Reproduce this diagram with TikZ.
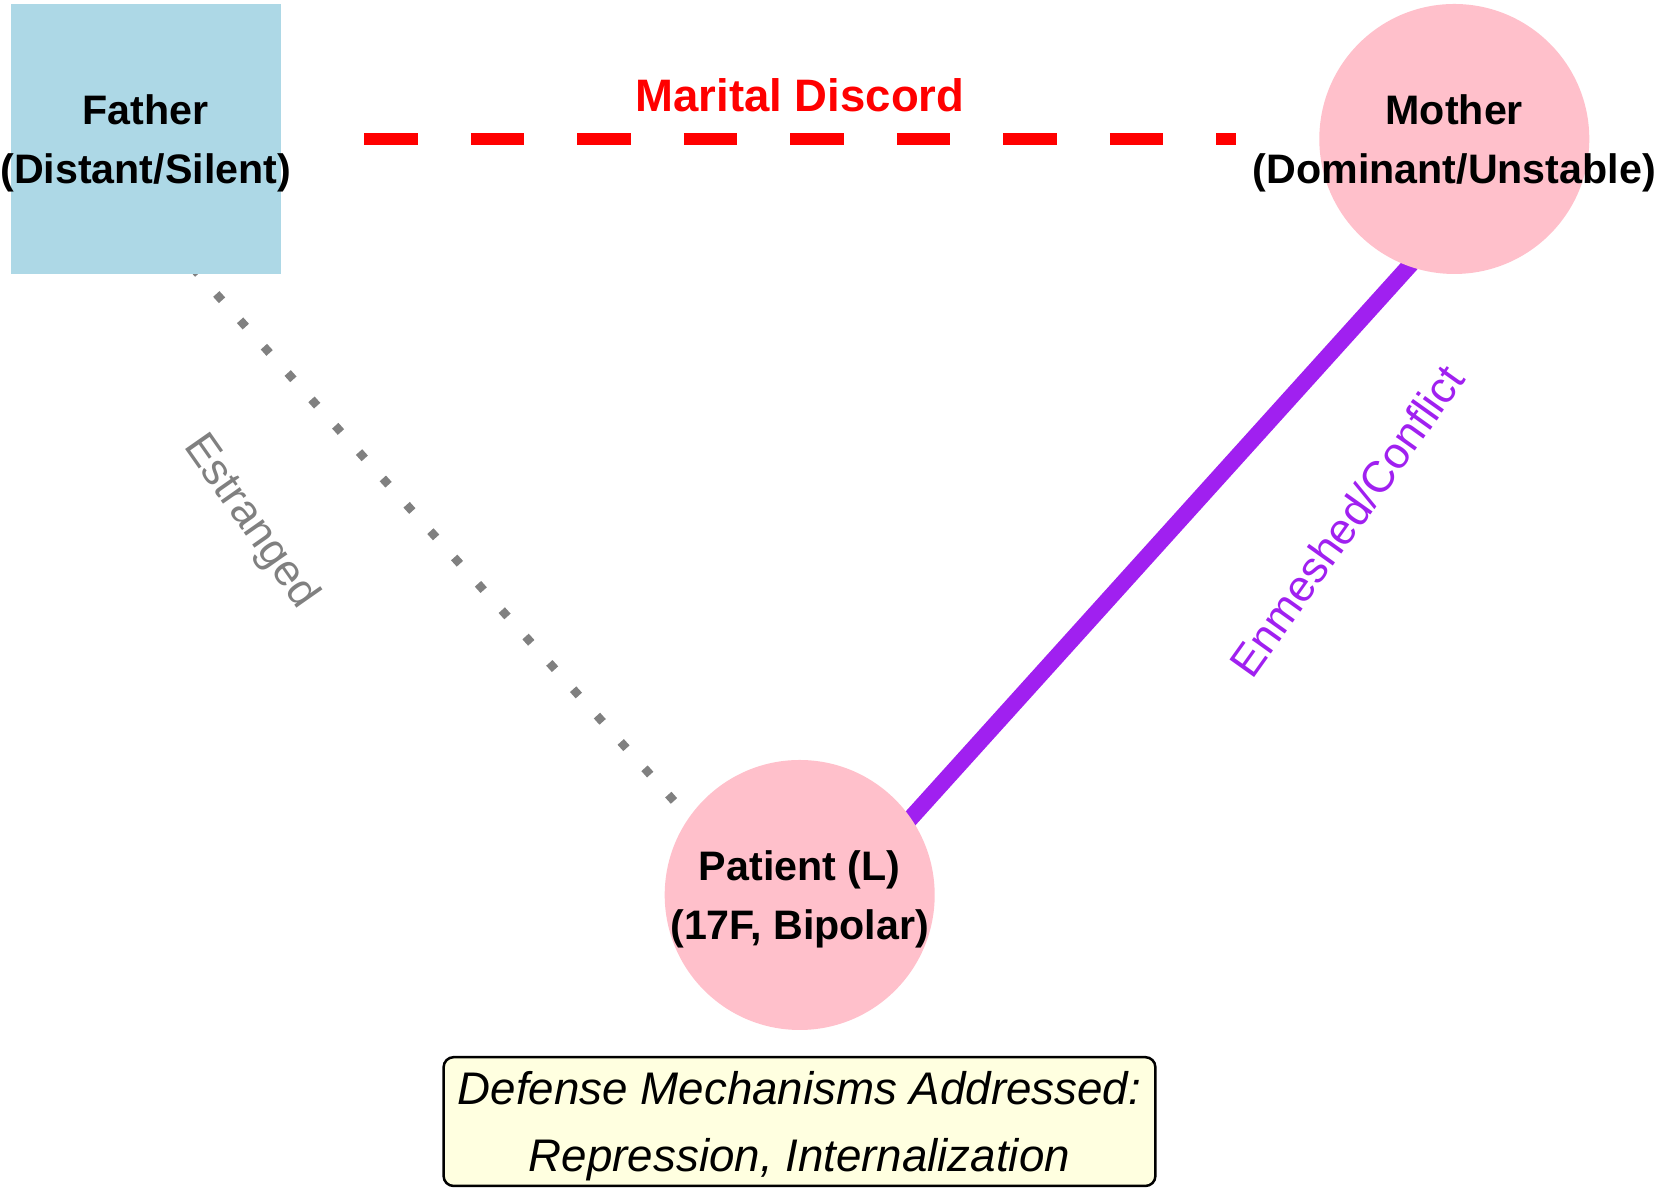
\documentclass[tikz,border=0pt]{standalone}
\usepackage{fontspec}
\setmainfont{Liberation Sans}
\usetikzlibrary{backgrounds}
\begin{document}
\begin{tikzpicture}[x=0.5pt,y=0.5pt,
  member/.style={minimum size=135pt, inner sep=0pt},
  membertext/.style={inner sep=0pt, align=center, text=black, yshift=-2.2pt,
    font=\bfseries\fontsize{20.6}{29.5}\selectfont},
  boxtext/.style={inner sep=0pt, align=center, text=black, yshift=-2.2pt,
    font=\itshape\fontsize{22.85}{33.8}\selectfont},
  discord/.style={draw=discordColor, line width=6.35pt, dash pattern=on 26.65pt off 26.6pt},
  estranged/.style={draw=estrangedColor, line width=4.25pt, dash pattern=on 4.25pt off 13.5pt, dash phase=2.1pt},
  conflict/.style={draw=conflictColor, line width=8.25pt},
  tielabel/.style={inner sep=0pt, font=\fontsize{22}{26}\selectfont}]
\definecolor{fatherFill}{RGB}{173,216,230}
\definecolor{pinkFill}{RGB}{255,192,203}
\definecolor{discordColor}{RGB}{255,0,0}
\definecolor{estrangedColor}{RGB}{128,128,128}
\definecolor{conflictColor}{RGB}{160,32,240}
\definecolor{boxFill}{RGB}{255,255,224}
\path[use as bounding box] (0,0) rectangle (1656,1192);

% family members
\node[member, rectangle, fill=fatherFill, label={[membertext]center:{Father\\(Distant/Silent)}}] (father) at (145.7,1053) {};
\node[member, circle, fill=pinkFill, label={[membertext]center:{Mother\\(Dominant/Unstable)}}] (mother) at (1454.3,1053) {};
\node[member, circle, fill=pinkFill, label={[membertext]center:{Patient (L)\\(17F, Bipolar)}}] (patient) at (799.7,297) {};

% relationships
\begin{scope}[on background layer]
\draw[discord] ([xshift=109.35pt]father.center) -- ([xshift=-109.15pt]mother.center);
\draw[estranged] ([xshift=-34.65pt]father.center) -- ([xshift=-20.4pt]patient.center);
\draw[conflict] ([xshift=20.85pt]patient.center) -- ([xshift=34.8pt]mother.center);
\end{scope}

\node[text=discordColor, anchor=base, inner sep=0pt, font=\bfseries\fontsize{22.75}{27}\selectfont] (discordLabel) at (800,1080) {Marital Discord};
\node[tielabel, text=estrangedColor, rotate=-55] (estrangedLabel) at (250,670) {Estranged};
\node[tielabel, text=conflictColor, rotate=54.5] (conflictLabel) at (1346.5,671) {Enmeshed/Conflict};

% defense mechanisms
\node[draw=black, line width=1.25pt, rounded corners=5pt, fill=boxFill, minimum width=355.9pt, minimum height=64.4pt,
  inner sep=0pt, label={[boxtext]center:{Defense Mechanisms Addressed:\\Repression, Internalization}}] (defenses) at (799.5,70.4) {};
\end{tikzpicture}
\end{document}
